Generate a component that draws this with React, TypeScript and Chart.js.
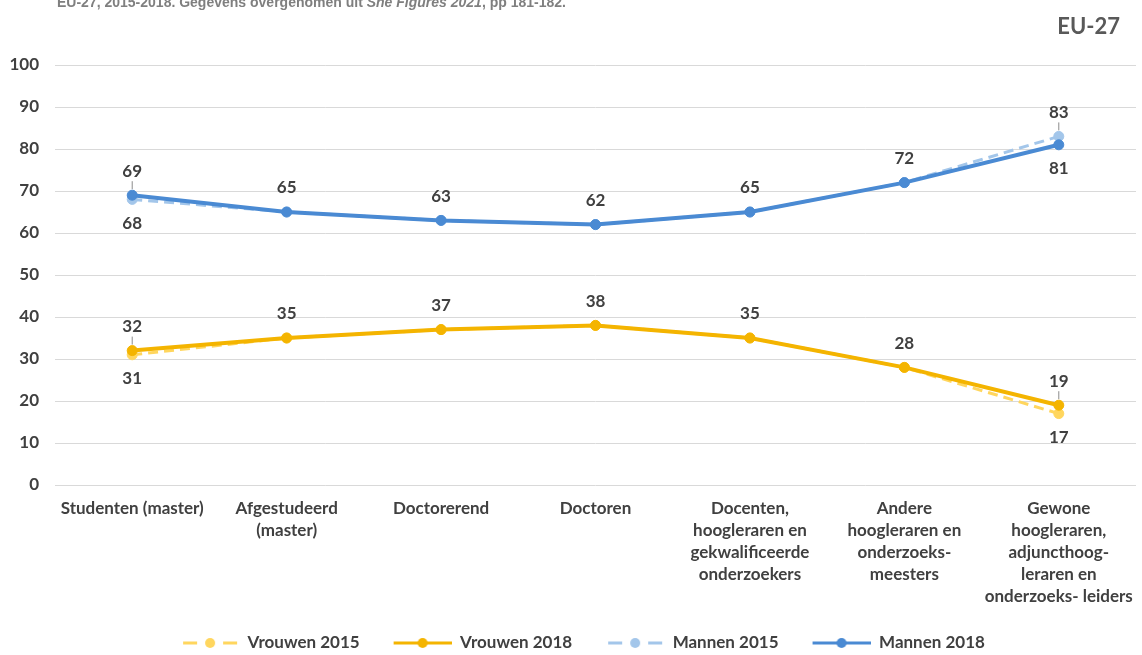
import React, { useEffect, useRef } from 'react';
import { Chart, registerables } from 'chart.js';

Chart.register(...registerables);

const categories: string[][] = [
  ['Studenten (master)'],
  ['Afgestudeerd', '(master)'],
  ['Doctorerend'],
  ['Doctoren'],
  ['Docenten,', 'hoogleraren en', 'gekwalificeerde', 'onderzoekers'],
  ['Andere', 'hoogleraren en', 'onderzoeks-', 'meesters'],
  ['Gewone', 'hoogleraren,', 'adjuncthoog-', 'leraren en', 'onderzoeks- leiders'],
];

const vrouwen2015 = [31, 35, 37, 38, 35, 28, 17];
const vrouwen2018 = [32, 35, 37, 38, 35, 28, 19];
const mannen2015 = [68, 65, 63, 62, 65, 72, 83];
const mannen2018 = [69, 65, 63, 62, 65, 72, 81];

const seriesNames = ['Vrouwen 2015', 'Vrouwen 2018', 'Mannen 2015', 'Mannen 2018'];
const seriesColors = ['#FFD65E', '#F4B400', '#A3C6EA', '#4A8AD3'];
const seriesDashed = [true, false, true, false];

const yMin = 0;
const yMax = 100;
const yStep = 10;

const chartTitle = 'EU-27';
const captionStart = 'EU-27, 2015-2018. Gegevens overgenomen uit ';
const captionItalic = 'She Figures 2021';
const captionEnd = ', pp 181-182.';

const FONT = 'Lato, "Open Sans", sans-serif';
const TEXT = '#404040';

const ICON_W = 82;
const ICON_MARGIN = 24;

function makeIcon(color: string, dashed: boolean): HTMLCanvasElement {
  const c = document.createElement('canvas');
  c.width = ICON_W;
  c.height = 16;
  const ctx = c.getContext('2d')!;
  const m = ICON_MARGIN;
  ctx.strokeStyle = color;
  ctx.fillStyle = color;
  ctx.lineWidth = 3;
  ctx.beginPath();
  if (dashed) {
    ctx.moveTo(m + 2, 8);
    ctx.lineTo(m + 16, 8);
    ctx.moveTo(m + 42, 8);
    ctx.lineTo(m + 56, 8);
  } else {
    ctx.moveTo(m, 8);
    ctx.lineTo(m + 58, 8);
  }
  ctx.stroke();
  ctx.beginPath();
  ctx.arc(m + 29, 8, 5, 0, Math.PI * 2);
  ctx.fill();
  return c;
}

const valueLabels = {
  id: 'valueLabels',
  afterDatasetsDraw(chart: any) {
    const ctx = chart.ctx;
    ctx.save();
    ctx.font = `bold 17px ${FONT}`;
    ctx.fillStyle = TEXT;
    ctx.textAlign = 'center';
    ctx.textBaseline = 'middle';
    const pairs = [[0, 1], [2, 3]];
    pairs.forEach(([a, b]) => {
      const ma = chart.getDatasetMeta(a);
      const mb = chart.getDatasetMeta(b);
      const da = chart.data.datasets[a].data as number[];
      const db = chart.data.datasets[b].data as number[];
      da.forEach((va, i) => {
        const vb = db[i];
        const pa = ma.data[i];
        const pb = mb.data[i];
        if (va === vb) {
          ctx.fillText(String(vb), pb.x, pb.y - 24);
        } else {
          const hiIsA = va > vb;
          const hi = hiIsA ? pa : pb;
          const lo = hiIsA ? pb : pa;
          const hv = hiIsA ? va : vb;
          const lv = hiIsA ? vb : va;
          ctx.fillText(String(hv), hi.x, hi.y - 24);
          ctx.fillText(String(lv), lo.x, lo.y + 24);
          ctx.save();
          ctx.strokeStyle = '#8c8c8c';
          ctx.lineWidth = 1;
          ctx.beginPath();
          ctx.moveTo(hi.x, hi.y - 14);
          ctx.lineTo(hi.x, hi.y - 6);
          ctx.stroke();
          ctx.restore();
        }
      });
    });
    ctx.restore();
  },
};

const cornerTitle = {
  id: 'cornerTitle',
  afterDraw(chart: any) {
    const ctx = chart.ctx;
    ctx.save();
    ctx.font = `bold 22px ${FONT}`;
    ctx.fillStyle = '#595959';
    ctx.textAlign = 'right';
    ctx.textBaseline = 'middle';
    ctx.fillText(chartTitle, chart.width - 22, 27);
    ctx.restore();
  },
};

export default function App() {
  const ref = useRef<HTMLCanvasElement | null>(null);

  useEffect(() => {
    document.body.style.margin = '0';
    const canvas = ref.current;
    if (!canvas) return;
    const allData = [vrouwen2015, vrouwen2018, mannen2015, mannen2018];
    const icons = seriesColors.map((c, i) => makeIcon(c, seriesDashed[i]));
    const chart = new Chart(canvas, {
      type: 'line',
      data: {
        labels: categories as any,
        datasets: allData.map((d, i) => ({
          label: seriesNames[i],
          data: d,
          borderColor: seriesColors[i],
          backgroundColor: seriesColors[i],
          pointBackgroundColor: seriesColors[i],
          pointBorderColor: seriesColors[i],
          borderWidth: seriesDashed[i] ? 3 : 4,
          borderDash: seriesDashed[i] ? [10, 6] : [],
          pointRadius: 5,
          pointBorderWidth: 1,
          tension: 0,
          fill: false,
          order: seriesDashed[i] ? 2 : 1,
        })),
      },
      options: {
        animation: false,
        responsive: false,
        devicePixelRatio: 1,
        layout: { padding: { top: 65, bottom: -6.5, left: 0, right: 0 } },
        plugins: {
          title: { display: false },
          tooltip: { enabled: false },
          legend: {
            display: true,
            position: 'bottom',
            labels: {
              usePointStyle: true,
              pointStyleWidth: ICON_W,
              padding: 10,
              color: TEXT,
              font: { family: FONT, size: 17, weight: 'bold' },
              sort: (a: any, b: any) => a.datasetIndex - b.datasetIndex,
              generateLabels: (ch: any) => {
                const items = (Chart.defaults.plugins.legend.labels as any).generateLabels(ch);
                return items.map((it: any) => ({
                  ...it,
                  pointStyle: icons[it.datasetIndex],
                  rotation: 0,
                }));
              },
            },
          },
        },
        scales: {
          x: {
            type: 'category',
            offset: true,
            grid: { display: false, drawTicks: true, tickLength: 12, offset: true },
            border: { display: false },
            ticks: {
              autoSkip: false,
              maxRotation: 0,
              minRotation: 0,
              padding: 0,
              color: TEXT,
              font: { family: FONT, size: 17, weight: 'bold', lineHeight: 1.3 },
            },
            afterFit: (s: any) => {
              s.height = 139.5;
            },
          },
          y: {
            min: yMin,
            max: yMax,
            grid: { color: '#d9d9d9', lineWidth: 1, drawTicks: false },
            border: { display: false },
            ticks: {
              stepSize: yStep,
              padding: 16,
              color: TEXT,
              font: { family: FONT, size: 17, weight: 'bold' },
            },
            afterFit: (s: any) => {
              s.width = 55;
            },
          },
        },
      },
      plugins: [valueLabels, cornerTitle],
    });
    return () => chart.destroy();
  }, []);

  return (
    <div style={{ position: 'relative', width: 1142, height: 655, overflow: 'hidden', background: '#fff' }}>
      <div
        style={{
          position: 'absolute',
          top: -5,
          left: 57,
          whiteSpace: 'nowrap',
          font: 'bold 14px "Liberation Sans Narrow", "Arial Narrow", sans-serif',
          lineHeight: '14px',
          color: '#7f7f7f',
        }}
      >
        {captionStart}
        <i>{captionItalic}</i>
        {captionEnd}
      </div>
      <canvas ref={ref} width={1142} height={655} style={{ display: 'block' }} />
    </div>
  );
}
